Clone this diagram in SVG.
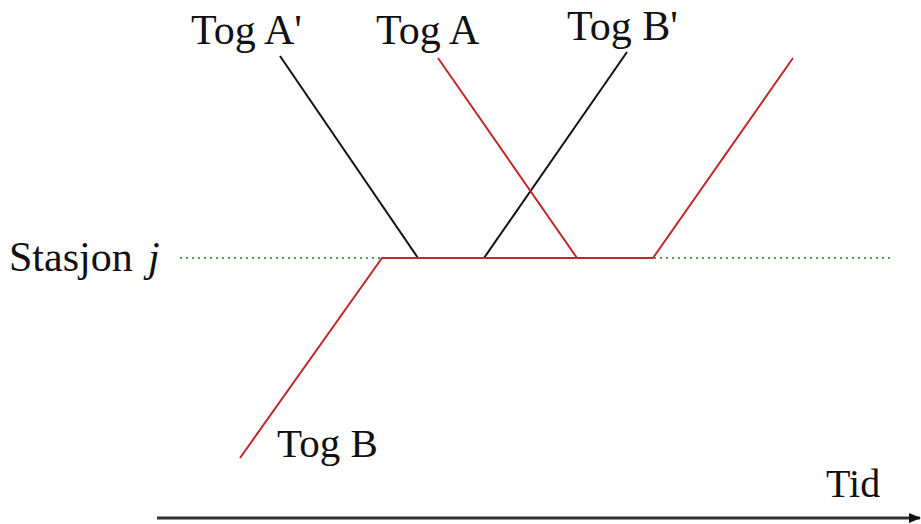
<svg xmlns="http://www.w3.org/2000/svg" width="921" height="524" viewBox="0 0 921 524">
<style>
text{font-family:"Liberation Serif","Times New Roman",serif;font-size:42px;fill:#111}
.red{stroke:#c0282e;stroke-width:2;fill:none}
.blk{stroke:#111;stroke-width:2;fill:none}
</style>
<defs>
<marker id="ah" markerWidth="12" markerHeight="10" refX="11" refY="5" orient="auto" markerUnits="userSpaceOnUse">
<path d="M0,0 L12,5 L0,10 Z" fill="#111"/>
</marker>
</defs>
<rect width="921" height="524" fill="#fff"/>
<g id="labels">
<text x="191" y="44">Tog A'</text>
<text x="376" y="44">Tog A</text>
<text x="567" y="40">Tog B'</text>
<text x="9" y="271">Stasjon</text>
<text x="148" y="271" font-style="italic">j</text>
<text x="277" y="457" style="font-size:41px">Tog B</text>
<text x="826" y="497" style="font-size:40px">Tid</text>
</g>
<g id="connectors">
<line id="station" x1="180" y1="258" x2="890" y2="258" stroke="#5a9a5a" stroke-width="2" stroke-dasharray="2 4"/>
<line id="togA1" class="blk" x1="280" y1="56" x2="418" y2="258"/>
<line id="togB1" class="blk" x1="627" y1="52" x2="484" y2="258"/>
<line id="togA" class="red" x1="438" y1="58" x2="577" y2="258"/>
<polyline id="togB" class="red" points="240,458 382,258 653,258 793,58"/>
<line id="axis" x1="157" y1="518" x2="920" y2="518" stroke="#333" stroke-width="3" marker-end="url(#ah)"/>
</g>
</svg>
